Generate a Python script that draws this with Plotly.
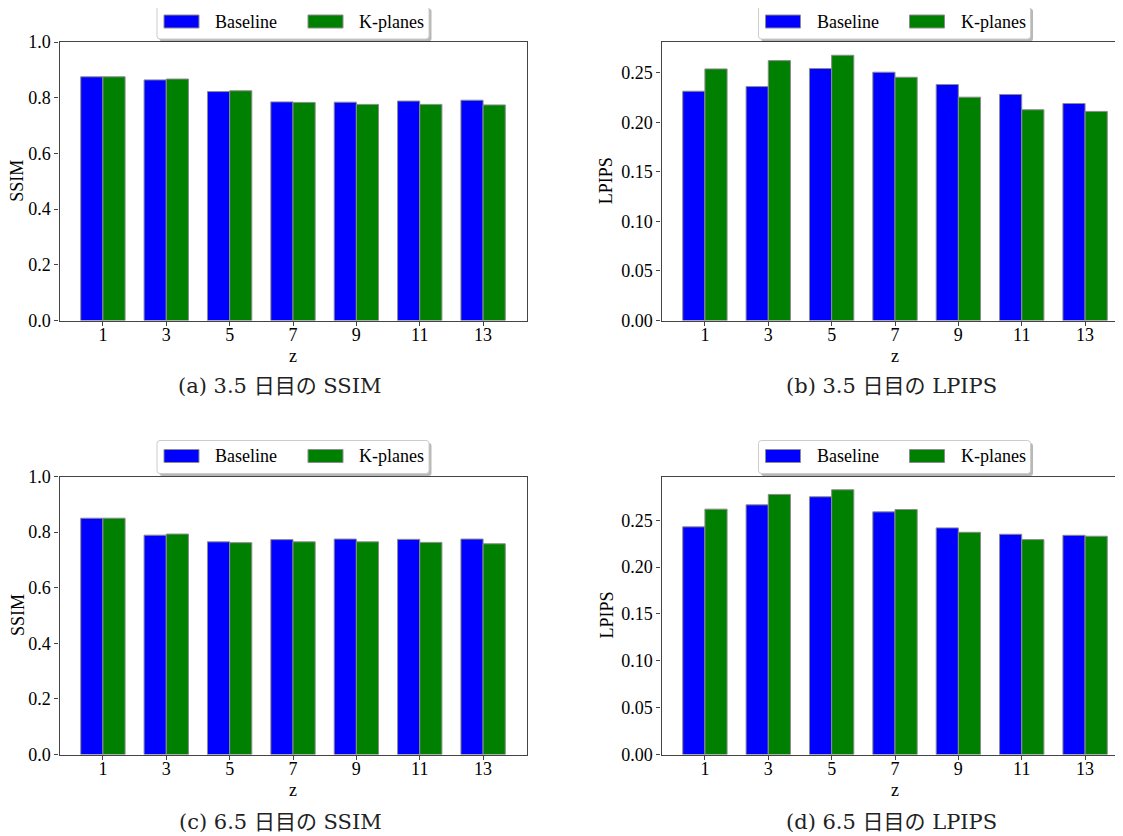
import plotly.graph_objects as go

# ---------------- data ----------------
z_values = [1, 3, 5, 7, 9, 11, 13]
series_names = ["Baseline", "K-planes"]
series_colors = ["#0000ff", "#008000"]

ssim_35_baseline = [0.875, 0.864, 0.822, 0.785, 0.784, 0.788, 0.791]
ssim_35_kplanes = [0.875, 0.867, 0.825, 0.783, 0.776, 0.776, 0.774]

lpips_35_baseline = [0.2315, 0.2362, 0.2544, 0.2507, 0.2383, 0.2282, 0.2191]
lpips_35_kplanes = [0.2540, 0.2624, 0.2678, 0.2456, 0.2255, 0.2128, 0.2111]

ssim_65_baseline = [0.850, 0.789, 0.765, 0.773, 0.775, 0.774, 0.775]
ssim_65_kplanes = [0.850, 0.793, 0.762, 0.765, 0.765, 0.763, 0.758]

lpips_65_baseline = [0.2429, 0.2664, 0.2750, 0.2589, 0.2418, 0.2350, 0.2339]
lpips_65_kplanes = [0.2618, 0.2775, 0.2825, 0.2614, 0.2371, 0.2293, 0.2329]

ssim_ticks = [0.0, 0.2, 0.4, 0.6, 0.8, 1.0]
lpips_ticks = [0.0, 0.05, 0.10, 0.15, 0.20, 0.25]

captions = ["(a) 3.5 日目の SSIM", "(b) 3.5 日目の LPIPS",
            "(c) 6.5 日目の SSIM", "(d) 6.5 日目の LPIPS"]
x_title = "z"

# ---------------- layout helpers ----------------
# the page body adds an 8px margin at the top-left
OFF = 8
W, H = 1123 - OFF, 836 - OFF
PX_PER_UNIT = 467.0 / 14.74
BAR_W = 0.7


def px(xp):
    return min(max((xp - OFF) / W, 0.0), 1.0)


def py(yp):
    return 1 - (yp - OFF) / H


panels = [
    dict(vals=(ssim_35_baseline, ssim_35_kplanes), ytitle="SSIM", ticks=ssim_ticks,
         fmt=".1f", ymax=1.0, left=59.5, top=42.0, bottom=320.5, full_right=526.5,
         cap_x=280, cap_y=386, ytitle_x=17.5),
    dict(vals=(lpips_35_baseline, lpips_35_kplanes), ytitle="LPIPS", ticks=lpips_ticks,
         fmt=".2f", ymax=None, left=661.5, top=42.0, bottom=320.5, full_right=1127.5,
         cap_x=891, cap_y=386, ytitle_x=606.0),
    dict(vals=(ssim_65_baseline, ssim_65_kplanes), ytitle="SSIM", ticks=ssim_ticks,
         fmt=".1f", ymax=1.0, left=59.5, top=476.5, bottom=754.5, full_right=526.5,
         cap_x=280, cap_y=822, ytitle_x=17.5),
    dict(vals=(lpips_65_baseline, lpips_65_kplanes), ytitle="LPIPS", ticks=lpips_ticks,
         fmt=".2f", ymax=None, left=661.5, top=476.5, bottom=754.5, full_right=1127.5,
         cap_x=891, cap_y=822, ytitle_x=606.0),
]

SERIF = "Liberation Serif, Times New Roman, serif"
TICK_FONT = dict(family=SERIF, size=18, color="black")
LEG_FONT = dict(family=SERIF, size=18, color="black")
TITLE_FONT = dict(family=SERIF, size=18, color="black")
CAP_FONT = dict(family="DejaVu Serif, Noto Sans CJK JP, serif", size=21, color="#222222")
SPINE = "#444444"

fig = go.Figure()
layout_axes = {}
shapes = []
annotations = []


def rounded_rect(x0, y0, x1, y1, r):
    X, Y = px, py
    return (f"M{X(x0 + r)},{Y(y0)} L{X(x1 - r)},{Y(y0)} Q{X(x1)},{Y(y0)} {X(x1)},{Y(y0 + r)} "
            f"L{X(x1)},{Y(y1 - r)} Q{X(x1)},{Y(y1)} {X(x1 - r)},{Y(y1)} "
            f"L{X(x0 + r)},{Y(y1)} Q{X(x0)},{Y(y1)} {X(x0)},{Y(y1 - r)} "
            f"L{X(x0)},{Y(y0 + r)} Q{X(x0)},{Y(y0)} {X(x0 + r)},{Y(y0)} Z")


for i, p in enumerate(panels):
    n = "" if i == 0 else str(i + 1)
    base, kp = p["vals"]
    for name, color, vals, off in zip(series_names, series_colors, (base, kp), (-BAR_W, 0.0)):
        fig.add_trace(go.Bar(
            x=z_values, y=vals, name=name, width=BAR_W, offset=off,
            marker=dict(color=color, line=dict(color="#8c8c8c", width=1)),
            xaxis="x" + n, yaxis="y" + n, showlegend=False,
        ))

    ymax = p["ymax"] if p["ymax"] is not None else max(base + kp) * 1.05
    right_vis = min(p["full_right"], OFF + W)
    x_lo = -0.37
    x_hi = x_lo + (right_vis - p["left"]) / PX_PER_UNIT
    mirror_y = right_vis == p["full_right"]

    layout_axes["xaxis" + n] = dict(
        domain=[px(p["left"]), px(right_vis)], range=[x_lo, x_hi], anchor="y" + n,
        tickmode="array", tickvals=z_values, ticktext=[str(v) for v in z_values],
        showline=True, linecolor=SPINE, linewidth=1.3, mirror=True,
        ticks="outside", ticklen=4, tickcolor=SPINE, tickwidth=1,
        ticklabelstandoff=-6,
        showgrid=False, zeroline=False, tickfont=TICK_FONT, automargin=False,
    )
    layout_axes["yaxis" + n] = dict(
        domain=[py(p["bottom"]), py(p["top"])], range=[0, ymax], anchor="x" + n,
        tickmode="array", tickvals=p["ticks"], tickformat=p["fmt"],
        showline=True, linecolor=SPINE, linewidth=1.3, mirror=mirror_y,
        ticks="outside", ticklen=4, tickcolor=SPINE, tickwidth=1,
        showgrid=False, zeroline=False, tickfont=TICK_FONT, automargin=False,
    )

    # axis titles
    cx = (p["left"] + p["full_right"]) / 2
    annotations.append(dict(text=x_title, xref="paper", yref="paper",
                            x=px(cx), y=py(p["bottom"] + 35), xanchor="center",
                            yanchor="middle", showarrow=False,
                            font=dict(family=SERIF, size=18, color="black")))
    annotations.append(dict(text=p["ytitle"], xref="paper", yref="paper",
                            x=px(p["ytitle_x"]), y=py((p["top"] + p["bottom"]) / 2),
                            xanchor="center", yanchor="middle", textangle=-90,
                            showarrow=False, font=TITLE_FONT))

    # manual legend (matplotlib style, centered over the full axis width)
    bw, bh = 272.0, 33.0
    bx0 = cx - bw / 2
    by0 = p["top"] - 36.0
    bx1, by1 = bx0 + bw, by0 + bh
    shapes.append(dict(type="path", xref="paper", yref="paper",
                       path=rounded_rect(bx0 + 2.5, by0 + 2.5, bx1 + 2.5, by1 + 2.5, 3),
                       fillcolor="rgba(0,0,0,0.28)", line=dict(width=0)))
    shapes.append(dict(type="path", xref="paper", yref="paper",
                       path=rounded_rect(bx0, by0, bx1, by1, 3),
                       fillcolor="white", line=dict(color="#cccccc", width=1)))
    ymid = by0 + bh / 2 - 1
    for k, (name, color) in enumerate(zip(series_names, series_colors)):
        patch_x = bx0 + 7 + k * 144
        shapes.append(dict(type="rect", xref="paper", yref="paper",
                           x0=px(patch_x), x1=px(patch_x + 35),
                           y0=py(ymid + 6.5), y1=py(ymid - 6.5),
                           fillcolor=color, line=dict(color="#8c8c8c", width=1)))
        annotations.append(dict(text=name, xref="paper", yref="paper",
                                x=px(patch_x + 49), y=py(ymid + 0.5), xanchor="left",
                                yanchor="middle", showarrow=False, font=LEG_FONT))

    annotations.append(dict(text=captions[i], xref="paper", yref="paper",
                            x=px(p["cap_x"]), y=py(p["cap_y"]), xanchor="center",
                            yanchor="middle", showarrow=False, font=CAP_FONT))

fig.update_layout(
    width=W, height=H, margin=dict(l=0, r=0, t=0, b=0, autoexpand=False),
    paper_bgcolor="white", plot_bgcolor="white",
    barmode="overlay", showlegend=False,
    shapes=shapes, annotations=annotations,
    **layout_axes,
)

fig.write_html("out.html")
